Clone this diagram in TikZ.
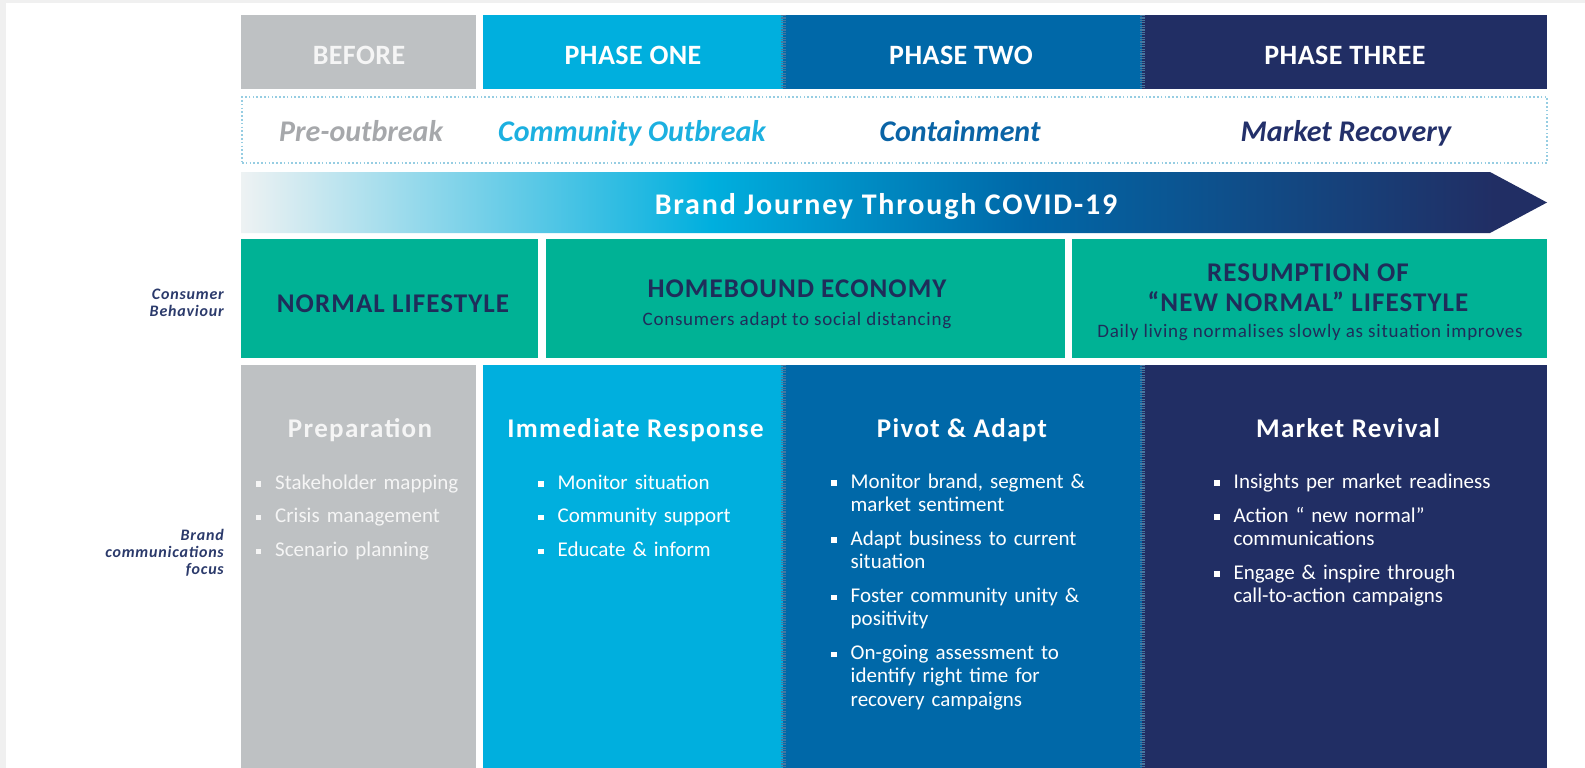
\documentclass[tikz,border=0pt]{standalone}
\usepackage{fontspec}
\setmainfont{Carlito}

% palette
\definecolor{framegray}{RGB}{240,240,240}
\definecolor{grayc}{RGB}{190,193,195}
\definecolor{p1c}{RGB}{0,175,222}
\definecolor{p2c}{RGB}{0,104,168}
\definecolor{p3c}{RGB}{33,46,100}
\definecolor{tealc}{RGB}{0,178,149}
\definecolor{navytxt}{RGB}{31,45,90}
\definecolor{labeltxt}{RGB}{43,58,107}
\definecolor{pretxt}{RGB}{166,168,171}
\definecolor{ph1txt}{RGB}{28,176,224}
\definecolor{ph2txt}{RGB}{10,100,166}
\definecolor{ph3txt}{RGB}{35,48,106}
\definecolor{dotc}{RGB}{150,205,226}
\definecolor{arrowstart}{RGB}{238,242,243}
\definecolor{divc}{RGB}{70,120,160}

% journey arrow: pale grey through cyan and blue to navy
\pgfdeclarehorizontalshading{journey}{100bp}{%
  color(0bp)=(arrowstart); color(25bp)=(arrowstart);
  color(43bp)=(p1c); color(55bp)=(p2c); color(73bp)=(p3c); color(100bp)=(p3c)}

% bullet items with a square marker and hanging indent
\newcommand{\sqmark}{\raisebox{2.5pt}{\rule{5.5pt}{5.5pt}}}
\newcommand{\bitem}[1]{\noindent\hangindent=19.5pt\hangafter=1\makebox[19.5pt][l]{\sqmark}#1\par}
\newcommand{\bgap}{\vspace{10.5pt}}

\begin{document}
\begin{tikzpicture}[x=1pt,y=-1pt,
  box/.style={rectangle, inner sep=0pt, outer sep=0pt, anchor=north west},
  hdrtxt/.style={anchor=base, inner sep=0pt, text=white,
    font=\fontsize{28}{30}\selectfont\bfseries\addfontfeatures{LetterSpace=1.5}},
  journeytxt/.style={anchor=base, inner sep=0pt, text=white,
    font=\fontsize{30}{32}\selectfont\bfseries\addfontfeatures{LetterSpace=6}},
  stagetxt/.style={anchor=base, inner sep=0pt, font=\fontsize{30}{32}\selectfont\bfseries\itshape},
  tealtitle/.style={anchor=base, inner sep=0pt, text=navytxt,
    font=\fontsize{27}{29}\selectfont\bfseries\addfontfeatures{LetterSpace=4}},
  tealsub/.style={anchor=base, inner sep=0pt, text=navytxt,
    font=\fontsize{19}{21}\selectfont\addfontfeatures{LetterSpace=4}},
  coltitle/.style={anchor=base, inner sep=0pt, text=white,
    font=\fontsize{27}{29}\selectfont\bfseries\addfontfeatures{LetterSpace=5}},
  blist/.style={anchor=base west, inner sep=0pt, text width=330pt, align=left, text=white,
    font=\fontsize{21}{23.3}\selectfont},
  sidelabel/.style={anchor=base east, inner sep=0pt, align=right, text=labeltxt,
    font=\fontsize{16}{17}\selectfont\bfseries\itshape\addfontfeatures{LetterSpace=5}},
  divider/.style={draw=divc, line width=5pt, dash pattern=on 1.2pt off 1.2pt},
  stageframe/.style={draw=dotc, line width=1.4pt, dash pattern=on 1.6pt off 2.2pt}
]
% page with a light frame on the left and top
\fill[framegray] (0,0) rectangle (1585,768);
\fill[white] (6,3) rectangle (1585,768);
\useasboundingbox (0,0) rectangle (1585,768);

% ---- phase header row ----
\node[box, fill=grayc, minimum width=235pt, minimum height=74pt] (before) at (241,15) {};
\node[box, fill=p1c, minimum width=300pt, minimum height=74pt] (ph1) at (483,15) {};
\node[box, fill=p2c, minimum width=359pt, minimum height=74pt] (ph2) at (783,15) {};
\node[box, fill=p3c, minimum width=405pt, minimum height=74pt] (ph3) at (1142,15) {};
\draw[divider] (ph2.north west) -- (ph2.south west);
\draw[divider] (ph3.north west) -- (ph3.south west);
\node[hdrtxt, text=white!96!black] (tbefore) at (359,64) {BEFORE};
\node[hdrtxt] (tph1) at (633,64) {PHASE ONE};
\node[hdrtxt] (tph2) at (961,64) {PHASE TWO};
\node[hdrtxt] (tph3) at (1345,64) {PHASE THREE};

% ---- stage names in a dotted frame ----
\node[box, stageframe, minimum width=1305pt, minimum height=66pt] (stages) at (242,97) {};
\node[stagetxt, text=pretxt] (spre) at (361,141.5) {Pre-outbreak};
\node[stagetxt, text=ph1txt] (scom) at (632,141.5) {Community Outbreak};
\node[stagetxt, text=ph2txt] (scon) at (960,141.5) {Containment};
\node[stagetxt, text=ph3txt] (smar) at (1346,141.5) {Market Recovery};

% ---- journey arrow ----
\shade[shading=journey] (241,172) -- (1490,172) -- (1547,202.5) -- (1490,233) -- (241,233) -- cycle;
\node[journeytxt] (journey) at (886,214.3) {Brand Journey Through COVID-19};

% ---- consumer behaviour row ----
\node[box, fill=tealc, minimum width=297pt, minimum height=119pt] (normal) at (241,239) {};
\node[box, fill=tealc, minimum width=519pt, minimum height=119pt] (home) at (546,239) {};
\node[box, fill=tealc, minimum width=475pt, minimum height=119pt] (resume) at (1072,239) {};
\node[tealtitle] (tnormal) at (393,312.7) {NORMAL LIFESTYLE};
\node[tealtitle] (thome) at (797,297.5) {HOMEBOUND ECONOMY};
\node[tealsub] (shome) at (797,325) {Consumers adapt to social distancing};
\node[tealtitle] (tres1) at (1308,281.7) {RESUMPTION OF};
\node[tealtitle] (tres2) at (1308,311.7) {“NEW NORMAL” LIFESTYLE};
\node[tealsub] (sres) at (1310,337.3) {Daily living normalises slowly as situation improves};

% ---- side labels (anchored at the baseline of their last line) ----
\node[sidelabel] (lconsumer) at (224,316) {Consumer\\Behaviour};
\node[sidelabel] (lbrand) at (224,574) {Brand\\communications\\focus};

% ---- brand communications columns ----
\node[box, fill=grayc, minimum width=235pt, minimum height=404pt] (cprep) at (241,365) {};
\node[box, fill=p1c, minimum width=300pt, minimum height=404pt] (cimm) at (483,365) {};
\node[box, fill=p2c, minimum width=359pt, minimum height=404pt] (cpiv) at (783,365) {};
\node[box, fill=p3c, minimum width=405pt, minimum height=404pt] (crev) at (1142,365) {};
\draw[divider] (cpiv.north west) -- (cpiv.south west);
\draw[divider] (crev.north west) -- (crev.south west);

\node[coltitle, text=white!96!black] (tprep) at (360,437) {Preparation};
\node[coltitle] (timm) at (635.5,437) {Immediate Response};
\node[coltitle] (tpiv) at (962,437) {Pivot \& Adapt};
\node[coltitle] (trev) at (1348,437) {Market Revival};

\node[blist, text=white!96!black] (lprep) at (255.5,489) {%
  \bitem{Stakeholder mapping}\bgap
  \bitem{Crisis management}\bgap
  \bitem{Scenario planning}};
\node[blist] (limm) at (538,489) {%
  \bitem{Monitor situation}\bgap
  \bitem{Community support}\bgap
  \bitem{Educate \& inform}};
\node[blist] (lpiv) at (831,488.3) {%
  \bitem{Monitor brand, segment \&\newline market sentiment}\bgap
  \bitem{Adapt business to current\newline situation}\bgap
  \bitem{Foster community unity \&\newline positivity}\bgap
  \bitem{On-going assessment to\newline identify right time for\newline recovery campaigns}};
\node[blist] (lrev) at (1214,488.3) {%
  \bitem{Insights per market readiness}\bgap
  \bitem{Action “ new normal”\newline communications}\bgap
  \bitem{Engage \& inspire through\newline call-to-action campaigns}};
\end{tikzpicture}
\end{document}
